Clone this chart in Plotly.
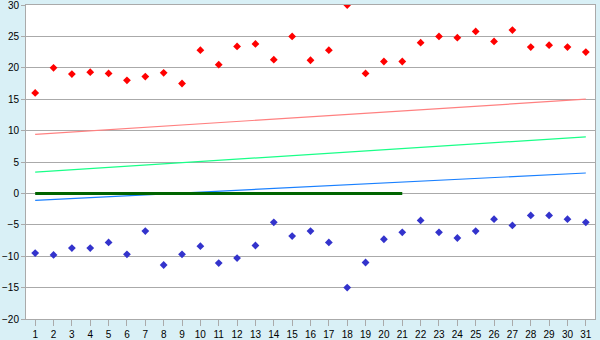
import plotly.graph_objects as go

days = list(range(1, 32))
high_vals = [16, 20, 19, 19.3, 19.1, 18, 18.6, 19.2, 17.5, 22.8, 20.5, 23.4, 23.8, 21.3, 25,
             21.2, 22.8, 30, 19.1, 21, 21, 24, 25, 24.8, 25.8, 24.2, 26, 23.3, 23.6, 23.3, 22.5]
low_vals = [-9.5, -9.8, -8.7, -8.7, -7.8, -9.7, -6, -11.4, -9.7, -8.4, -11.1, -10.3, -8.3, -4.6, -6.8,
            -6, -7.8, -15, -11, -7.3, -6.2, -4.3, -6.2, -7.1, -6, -4.1, -5.1, -3.5, -3.5, -4.1, -4.6]
trend_x = [1, 31]
red_trend = [9.4, 15.0]
green_trend = [3.4, 9.0]
blue_trend = [-1.1, 3.25]
zero_x = [1, 21]
zero_y = [0, 0]
y_ticks = [-20, -15, -10, -5, 0, 5, 10, 15, 20, 25, 30]

fig = go.Figure()
fig.add_trace(go.Scatter(x=trend_x, y=red_trend, mode="lines", line=dict(color="#ff8080", width=1.2)))
fig.add_trace(go.Scatter(x=trend_x, y=green_trend, mode="lines", line=dict(color="#19ff88", width=1.2)))
fig.add_trace(go.Scatter(x=trend_x, y=blue_trend, mode="lines", line=dict(color="#1a80ff", width=1.2)))
fig.add_trace(go.Scatter(x=zero_x, y=zero_y, mode="lines", line=dict(color="#006400", width=3)))
fig.add_trace(go.Scatter(x=days, y=high_vals, mode="markers",
                         marker=dict(symbol="diamond", size=6, color="#ff0000")))
fig.add_trace(go.Scatter(x=days, y=low_vals, mode="markers",
                         marker=dict(symbol="diamond", size=6, color="#3333cc")))

fig.update_layout(
    width=600, height=340,
    margin=dict(l=26, r=5, t=5, b=21, autoexpand=False),
    paper_bgcolor="#d9f0f6",
    plot_bgcolor="#ffffff",
    showlegend=False,
    font=dict(family="Liberation Sans", size=10, color="#000000"),
)
fig.update_xaxes(
    range=[0.5, 31.5], tickmode="array", tickvals=days, ticktext=[str(d) for d in days],
    showgrid=False, zeroline=False, showline=True, linecolor="#aaaaaa", linewidth=1,
    mirror=True, ticks="outside", ticklen=6, tickcolor="#aaaaaa", automargin=False,
    ticklabeloverflow="allow",
)
fig.update_yaxes(
    range=[-20, 30], tickmode="array", tickvals=y_ticks,
    showgrid=True, gridcolor="#aaaaaa", gridwidth=1, zeroline=False,
    showline=True, linecolor="#aaaaaa", linewidth=1, mirror=True,
    ticks="outside", ticklen=4, tickcolor="#aaaaaa", automargin=False,
    ticklabeloverflow="allow",
)

fig.write_html("out.html")
